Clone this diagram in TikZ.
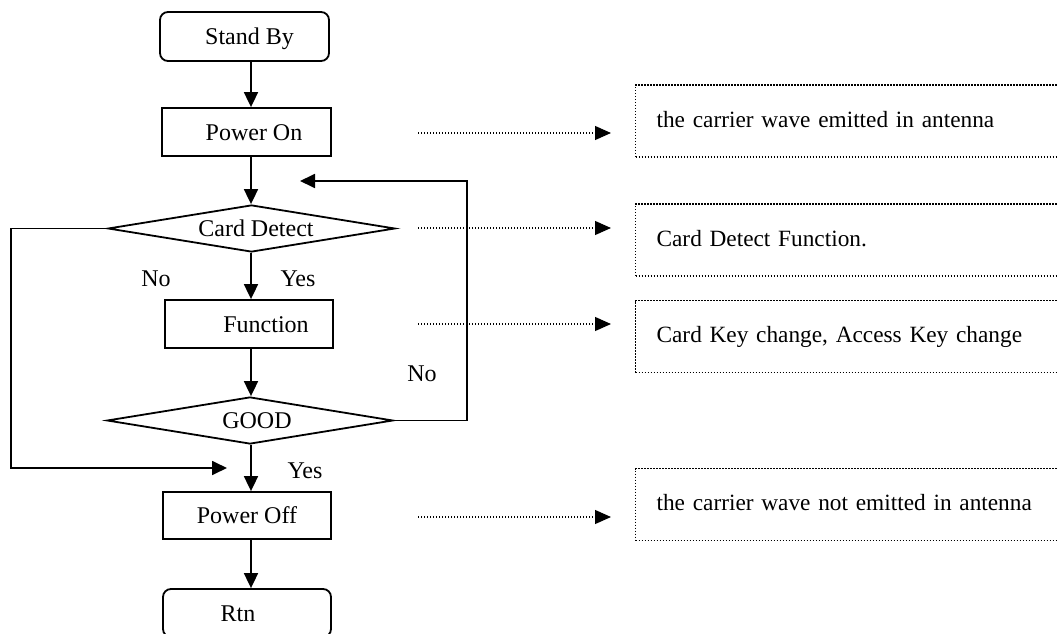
\documentclass[tikz,border=0pt]{standalone}
\usepackage{fontspec}
\setmainfont{Liberation Serif}
\usetikzlibrary{arrows.meta,shapes.geometric}
\newcommand{\flowtxt}[2]{\smash{\raisebox{-8pt}{\makebox[0pt][c]{\hspace*{#1}#2}}}}
\tikzset{
  bigfont/.style={font=\fontsize{24}{28}\selectfont},
  annfont/.style={font=\fontsize{23.3}{28}\selectfont},
  flowbox/.style={draw, line width=1.8pt, rectangle, inner sep=0pt, bigfont},
  termbox/.style={flowbox, rounded corners=8pt},
  decbox/.style={draw, line width=1.8pt, diamond, inner sep=0pt, bigfont},
  arr/.style={line width=1.8pt, -{Triangle[length=15pt,width=14pt]}},
  dotarr/.style={line width=1.2pt, dash pattern=on 1.2pt off 1.8pt, -{Triangle[length=16pt,width=14pt]}},
  annbox/.style={draw, line width=1.2pt, dash pattern=on 1.2pt off 1.8pt, rectangle,
     anchor=west, minimum width=440pt, minimum height=72pt, inner xsep=21pt, inner ysep=0pt,
     text width=398pt, align=left, text height=17pt, text depth=5pt, annfont},
  lbl/.style={inner sep=0pt, bigfont}
}
\begin{document}
\begin{tikzpicture}[x=1pt,y=-1pt]
\useasboundingbox (0,0) rectangle (1058,634);
\clip (0,0) rectangle (1058,634);
% main flow
\node[termbox, minimum width=169pt, minimum height=49pt] (standby) at (244.5,36.5) {\flowtxt{10pt}{Stand By}};
\node[flowbox, minimum width=169pt, minimum height=48pt] (poweron) at (246.5,132) {\flowtxt{15pt}{Power On}};
\node[decbox, minimum width=287pt, minimum height=47pt] (cd) at (251.5,228.5) {\flowtxt{9pt}{Card Detect}};
\node[flowbox, minimum width=168pt, minimum height=48pt] (func) at (249,324) {\flowtxt{34pt}{Function}};
\node[decbox, minimum width=286pt, minimum height=47pt] (good) at (250,420.5) {\flowtxt{14pt}{GOOD}};
\node[flowbox, minimum width=168pt, minimum height=47pt] (poweroff) at (247,515.5) {\flowtxt{0pt}{Power Off}};
\node[termbox, minimum width=168pt, minimum height=48pt] (rtn) at (247,613) {\flowtxt{-18pt}{Rtn}};
\coordinate (sp) at (251,0);
\draw[arr] (standby.south -| sp) -- (poweron.north -| sp);
\draw[arr] (poweron.south -| sp) -- (cd.north -| sp);
\draw[arr] (cd.south -| sp) -- (func.north -| sp);
\draw[arr] (func.south -| sp) -- (good.north -| sp);
\draw[arr] (good.south -| sp) -- (poweroff.north -| sp);
\draw[arr] (poweroff.south -| sp) -- (rtn.north -| sp);
% loops
\coordinate (lcorner) at (11,468);
\coordinate (lin) at (227,468);
\draw[arr] (cd.west) -| (lcorner) -- (lin);
\coordinate (rcorner) at (467,181);
\coordinate (rin) at (300,181);
\draw[arr] (good.east) -| (rcorner) -- (rin);
% labels
\node[lbl] (no1) at (156,279) {No};
\node[lbl] (yes1) at (298,279) {Yes};
\node[lbl] (no2) at (422,374) {No};
\node[lbl] (yes2) at (305,471) {Yes};
% annotations
\node[annbox] (ann1) at (635,121) {the carrier wave emitted in antenna};
\node[annbox] (ann2) at (635,240) {Card Detect Function.};
\node[annbox] (ann3) at (635,336.5) {Card Key change, Access Key change};
\node[annbox] (ann4) at (635,504.5) {the carrier wave not emitted in antenna};
\coordinate (d1) at (418,133);
\coordinate (d2) at (418,228);
\coordinate (d3) at (418,324);
\coordinate (d4) at (418,517);
\draw[dotarr, shorten >=24pt] (d1) -- (d1 -| ann1.west);
\draw[dotarr, shorten >=24pt] (d2) -- (d2 -| ann2.west);
\draw[dotarr, shorten >=24pt] (d3) -- (d3 -| ann3.west);
\draw[dotarr, shorten >=24pt] (d4) -- (d4 -| ann4.west);
\end{tikzpicture}
\end{document}
